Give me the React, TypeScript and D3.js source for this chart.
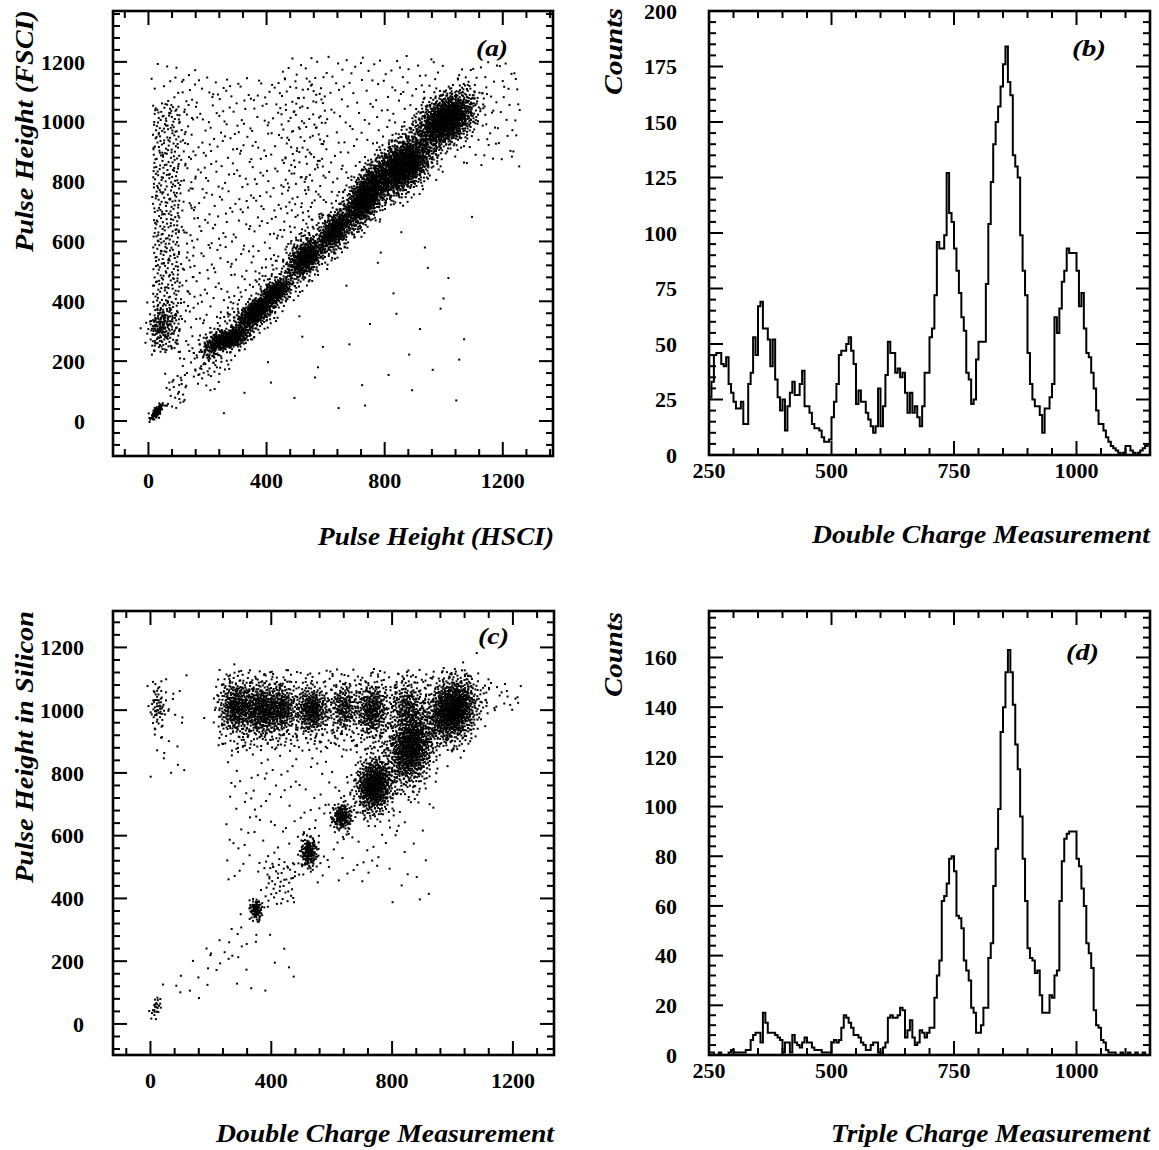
import React from 'react';
import * as d3 from 'd3';

// ---------- Histogram data (bins of 5 units starting at 250) ----------
const HIST_START = 250;
const HIST_BIN = 5;

const doubleCounts = [
  26, 33, 45, 46, 46, 41, 40, 44, 32, 28,
  24, 21, 21, 24, 14, 14, 32, 37, 53, 45,
  67, 69, 57, 57, 52, 40, 52, 34, 26, 20,
  25, 11, 22, 28, 33, 27, 27, 32, 38, 22,
  22, 19, 14, 12, 12, 11, 8, 6, 6, 7,
  17, 24, 32, 45, 47, 47, 50, 53, 47, 41,
  23, 29, 24, 24, 19, 16, 13, 10, 13, 30,
  13, 22, 36, 51, 46, 46, 37, 39, 35, 37,
  28, 19, 28, 19, 22, 17, 13, 22, 37, 37,
  53, 57, 72, 96, 93, 93, 99, 127, 109, 105,
  93, 83, 73, 62, 56, 37, 34, 23, 25, 43,
  51, 51, 51, 77, 104, 123, 140, 150, 157, 166,
  176, 184, 168, 162, 135, 130, 125, 99, 83, 72,
  46, 32, 25, 22, 22, 18, 10, 21, 21, 26,
  32, 62, 55, 66, 78, 83, 93, 91, 91, 91,
  83, 67, 73, 57, 46, 44, 37, 30, 20, 14,
  14, 11, 8, 6, 4, 3, 2, 1, 0, 1,
  4, 4, 2, 1, 0, 1, 2, 3, 4, 5,
];

const tripleCounts = [
  1, 1, 0, 0, 1, 0, 0, 0, 1, 2,
  1, 1, 1, 1, 1, 2, 2, 6, 8, 9,
  9, 5, 17, 13, 9, 9, 9, 8, 7, 6,
  1, 5, 5, 1, 8, 5, 4, 3, 5, 7,
  5, 5, 3, 2, 2, 2, 1, 1, 1, 1,
  5, 6, 5, 6, 11, 16, 15, 13, 11, 8,
  8, 7, 5, 4, 2, 2, 4, 5, 5, 1,
  0, 3, 5, 15, 16, 15, 15, 16, 19, 18,
  7, 10, 14, 7, 4, 5, 10, 9, 7, 9,
  11, 11, 23, 32, 38, 62, 64, 69, 79, 80,
  74, 56, 55, 51, 38, 34, 30, 19, 17, 9,
  9, 12, 19, 19, 39, 45, 68, 83, 99, 130,
  140, 154, 163, 154, 141, 125, 115, 96, 79, 62,
  43, 39, 38, 33, 34, 24, 17, 17, 17, 24,
  23, 32, 34, 62, 78, 87, 89, 90, 90, 90,
  79, 76, 67, 60, 45, 41, 35, 18, 12, 11,
  6, 5, 2, 1, 1, 1, 0, 0, 1, 0,
  0, 1, 0, 0, 1, 0, 0, 1, 0, 0,
];

// ---------- Tick labels ----------
const scatterXTicks = [0, 400, 800, 1200];
const scatterYTicks = [0, 200, 400, 600, 800, 1000, 1200];
const histXTicks = [250, 500, 750, 1000];
const histBYTicks = [0, 25, 50, 75, 100, 125, 150, 175, 200];
const histDYTicks = [0, 20, 40, 60, 80, 100, 120, 140, 160];

// ---------- Scatter clusters: [cx, cy, sx, sy, rho, n] ----------
const clustersA = [
  [28, 30, 11, 13, 0.7, 80],
  [275, 275, 34, 19, 0.5, 420],
  [215, 245, 20, 28, 0.3, 80],
  [362, 362, 32, 27, 0.6, 500],
  [432, 432, 27, 24, 0.5, 320],
  [532, 545, 31, 34, 0.5, 520],
  [630, 635, 29, 36, 0.5, 420],
  [735, 748, 36, 52, 0.6, 850],
  [862, 852, 52, 52, 0.5, 1250],
  [1008, 1005, 48, 45, 0.4, 1100],
  [45, 320, 25, 35, 0.2, 130],
];
// uniform regions: [x0, x1, y0, y1, n, minYminusX, maxYminusX]
const regionsA = [
  [15, 105, 230, 1060, 400, null, null],
  [10, 160, 200, 1200, 100, null, null],
  [100, 600, 300, 1150, 420, 80, null],
  [450, 1000, 550, 1220, 200, 80, null],
  [150, 1100, 150, 1150, 450, -100, 120],
  [1050, 1260, 850, 1200, 70, null, null],
  [250, 1100, 10, 700, 35, null, -150],
  [55, 130, 40, 160, 25, null, null],
  [100, 250, 100, 260, 30, null, null],
];

const clustersC = [
  [25, 1010, 14, 35, 0, 60],
  [285, 1010, 30, 42, 0, 360],
  [370, 1000, 32, 44, 0, 430],
  [437, 1005, 24, 38, 0, 240],
  [535, 1000, 27, 36, 0, 310],
  [640, 1008, 24, 38, 0, 190],
  [735, 1000, 27, 42, 0, 320],
  [850, 1010, 27, 44, 0, 210],
  [862, 880, 38, 60, 0.2, 850],
  [1000, 1000, 42, 50, 0.2, 950],
  [742, 760, 30, 44, 0.1, 660],
  [635, 660, 17, 22, 0, 160],
  [525, 545, 15, 26, 0, 150],
  [350, 365, 11, 17, 0, 85],
  [20, 55, 10, 20, 0.6, 25],
];
const regionsC = [
  [220, 1060, 870, 1130, 520, null, null],
  [250, 950, 450, 950, 230, -250, null],
  [380, 480, 380, 520, 45, null, null],
  [80, 400, 80, 400, 30, -80, 80],
  [1090, 1230, 1000, 1090, 22, null, null],
  [780, 940, 380, 620, 12, null, null],
  [0, 120, 780, 1120, 25, null, null],
  [250, 500, 100, 300, 12, null, null],
];

// ---------- helpers: deterministic low-discrepancy (Halton 2,3) fill ----------
function halton(i: number, b: number) {
  let f = 1, r = 0;
  while (i > 0) { f /= b; r += f * (i % b); i = Math.floor(i / b); }
  return r;
}

function samplePoints(clusters: number[][], regions: any[][], seed: number) {
  const pts: [number, number][] = [];
  clusters.forEach((c, k) => {
    const [cx, cy, sx, sy, rho, n] = c;
    const off = seed + k * 2357 + 1;
    for (let j = 0; j < n; j++) {
      const u1 = halton(off + j, 2), u2 = halton(off + j, 3);
      const r = Math.sqrt(-2 * Math.log(u1));
      const z1 = r * Math.cos(2 * Math.PI * u2), z2 = r * Math.sin(2 * Math.PI * u2);
      pts.push([cx + sx * z1, cy + sy * (rho * z1 + Math.sqrt(1 - rho * rho) * z2)]);
    }
  });
  regions.forEach((g, k) => {
    const [x0, x1, y0, y1, n, dMin, dMax] = g;
    const off = seed + 40000 + k * 3119 + 1;
    let j = 0, count = 0;
    while (count < n && j < n * 30) {
      const x = x0 + (x1 - x0) * halton(off + j, 2);
      const y = y0 + (y1 - y0) * halton(off + j, 3);
      j++;
      const d = y - x;
      if (dMin != null && d < dMin) continue;
      if (dMax != null && d > dMax) continue;
      pts.push([x, y]);
      count++;
    }
  });
  return pts;
}

const FONT = "'Liberation Serif', 'Times New Roman', Times, serif";

type PanelProps = {
  id: string;
  frame: { x0: number; x1: number; y0: number; y1: number };
  xDomain: [number, number];
  yDomain: [number, number];
  xTicks: number[]; xMinor: number;
  yTicks: number[]; yMinor: number;
  yLabelX: number; xLabelY: number;
  points?: [number, number][];
  counts?: number[];
};

function Panel(p: PanelProps) {
  const { frame } = p;
  const xs = d3.scaleLinear().domain(p.xDomain).range([frame.x0, frame.x1]);
  const ys = d3.scaleLinear().domain(p.yDomain).range([frame.y1, frame.y0]);
  const MAJ = 14, MIN = 7;
  const minorVals = (dom: [number, number], step: number, majors: number[]) => {
    const out: number[] = [];
    const start = Math.ceil(dom[0] / step) * step;
    for (let v = start; v <= dom[1] + 1e-9; v += step) {
      if (!majors.some(m => Math.abs(m - v) < 1e-6)) out.push(v);
    }
    return out;
  };
  const xMin = minorVals(p.xDomain, p.xMinor, p.xTicks);
  const yMin = minorVals(p.yDomain, p.yMinor, p.yTicks);
  const tickLines: JSX.Element[] = [];
  const addX = (v: number, len: number, key: string) => {
    const x = xs(v);
    tickLines.push(<line key={'xb' + key} x1={x} x2={x} y1={frame.y1} y2={frame.y1 - len} />);
    tickLines.push(<line key={'xt' + key} x1={x} x2={x} y1={frame.y0} y2={frame.y0 + len} />);
  };
  const addY = (v: number, len: number, key: string) => {
    const y = ys(v);
    tickLines.push(<line key={'yl' + key} x1={frame.x0} x2={frame.x0 + len} y1={y} y2={y} />);
    tickLines.push(<line key={'yr' + key} x1={frame.x1} x2={frame.x1 - len} y1={y} y2={y} />);
  };
  p.xTicks.forEach((v, i) => addX(v, MAJ, 'M' + i));
  xMin.forEach((v, i) => addX(v, MIN, 'm' + i));
  p.yTicks.forEach((v, i) => addY(v, MAJ, 'M' + i));
  yMin.forEach((v, i) => addY(v, MIN, 'm' + i));

  let histPath = '';
  if (p.counts) {
    const c = p.counts;
    histPath = `M${xs(HIST_START)},${ys(0)}`;
    c.forEach((v, i) => {
      const xa = xs(HIST_START + i * HIST_BIN), xb = xs(HIST_START + (i + 1) * HIST_BIN);
      histPath += `L${xa},${ys(v)}L${xb},${ys(v)}`;
    });
  }

  return (
    <g>
      <defs>
        <clipPath id={'clip' + p.id}>
          <rect x={frame.x0} y={frame.y0} width={frame.x1 - frame.x0} height={frame.y1 - frame.y0} />
        </clipPath>
      </defs>
      <g clipPath={`url(#clip${p.id})`}>
        {p.points && p.points.map((pt, i) => (
          <rect key={i} x={xs(pt[0]) - 1} y={ys(pt[1]) - 1} width={2} height={2} fill="#000" />
        ))}
        {p.counts && <path d={histPath} fill="none" stroke="#000" strokeWidth={2} strokeLinejoin="miter" />}
      </g>
      <g stroke="#000" strokeWidth={2}>{tickLines}</g>
      <rect x={frame.x0} y={frame.y0} width={frame.x1 - frame.x0} height={frame.y1 - frame.y0}
        fill="none" stroke="#000" strokeWidth={2.6} />
      <g fontFamily={FONT} fontWeight="bold" fontSize={22} fill="#000">
        {p.xTicks.map(v => (
          <text key={'xl' + v} x={xs(v)} y={p.xLabelY} textAnchor="middle">{v}</text>
        ))}
        {p.yTicks.map(v => (
          <text key={'yl' + v} x={p.yLabelX} y={ys(v)} dy="0.35em" textAnchor="end">{v}</text>
        ))}
      </g>
    </g>
  );
}

function Title({ x, y, text, len, rotate = false, size = 25 }: any) {
  const tr = rotate ? `translate(${x},${y}) rotate(-90)` : `translate(${x},${y})`;
  return (
    <text transform={tr} fontFamily={FONT} fontStyle="italic" fontWeight="bold" fontSize={size}
      textLength={len} lengthAdjust="spacingAndGlyphs" fill="#000">{text}</text>
  );
}

export default function App() {
  const ptsA = samplePoints(clustersA, regionsA, 11);
  const ptsC = samplePoints(clustersC, regionsC, 23);
  return (
    <svg width={1159} height={1150} style={{ position: 'absolute', left: 0, top: 0, background: '#fff' }}>
      <rect x={0} y={0} width={1159} height={1150} fill="#fff" />
      <Panel id="a" frame={{ x0: 113, x1: 553, y0: 11, y1: 456 }} xDomain={[-120, 1370]} yDomain={[-117, 1370]}
        xTicks={scatterXTicks} xMinor={80} yTicks={scatterYTicks} yMinor={40}
        yLabelX={85} xLabelY={488} points={ptsA} />
      <Panel id="b" frame={{ x0: 709, x1: 1150, y0: 11, y1: 455 }} xDomain={[250, 1150]} yDomain={[0, 200]}
        xTicks={histXTicks} xMinor={50} yTicks={histBYTicks} yMinor={5}
        yLabelX={677} xLabelY={478} counts={doubleCounts} />
      <Panel id="c" frame={{ x0: 113, x1: 554, y0: 611, y1: 1055 }} xDomain={[-124, 1336]} yDomain={[-99, 1316]}
        xTicks={scatterXTicks} xMinor={80} yTicks={scatterYTicks} yMinor={40}
        yLabelX={84} xLabelY={1088} points={ptsC} />
      <Panel id="d" frame={{ x0: 709, x1: 1150, y0: 611, y1: 1055 }} xDomain={[250, 1150]} yDomain={[0, 178.7]}
        xTicks={histXTicks} xMinor={50} yTicks={histDYTicks} yMinor={4}
        yLabelX={677} xLabelY={1078} counts={tripleCounts} />

      <Title x={318} y={545} text="Pulse Height (HSCI)" len={236} />
      <Title x={812} y={543} text="Double Charge Measurement" len={338} />
      <Title x={216} y={1142} text="Double Charge Measurement" len={338} />
      <Title x={831} y={1142} text="Triple Charge Measurement" len={319} />
      <Title x={33} y={252} text="Pulse Height (FSCI)" len={242} rotate />
      <Title x={33} y={883} text="Pulse Height in Silicon" len={272} rotate />
      <Title x={622} y={95} text="Counts" len={87} rotate />
      <Title x={622} y={697} text="Counts" len={85} rotate />

      <Title x={476} y={56} text="(a)" len={32} size={24} />
      <Title x={1072} y={56} text="(b)" len={34} size={24} />
      <Title x={478} y={644} text="(c)" len={31} size={24} />
      <Title x={1066} y={660} text="(d)" len={33} size={24} />
    </svg>
  );
}
